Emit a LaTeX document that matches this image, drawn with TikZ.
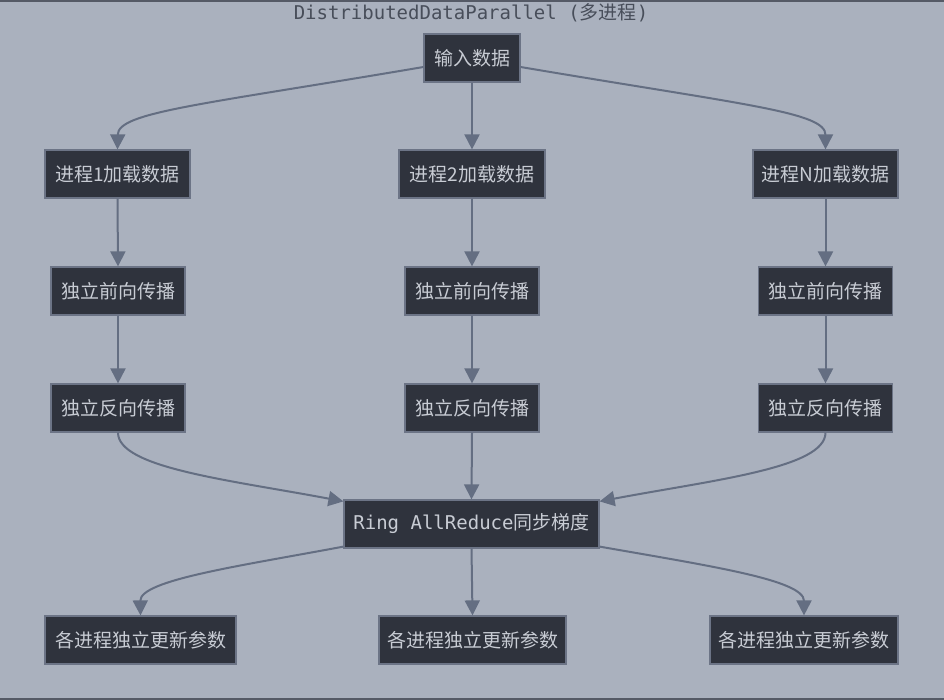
\documentclass[tikz,border=0pt]{standalone}
\usepackage{fontspec}
\setmainfont{Noto Sans CJK SC}
\newfontfamily\cjk{Noto Sans CJK SC}
\newfontfamily\mono{DejaVu Sans Mono}
\usetikzlibrary{arrows.meta,calc}
\definecolor{bgcol}{RGB}{170,177,190}
\definecolor{nodefill}{RGB}{47,51,61}
\definecolor{nodeborder}{RGB}{108,116,134}
\definecolor{nodetext}{RGB}{200,204,212}
\definecolor{edgecol}{RGB}{100,110,130}
\definecolor{titlecol}{RGB}{72,78,90}
\definecolor{framecol}{RGB}{85,90,102}
\begin{document}
\begin{tikzpicture}[x=1pt,y=-1pt,
  box/.style={draw=nodeborder, fill=nodefill, text=nodetext, line width=1.2pt,
    minimum height=48pt, inner sep=0pt, font=\cjk\fontsize{19}{23}\selectfont},
  edge/.style={draw=edgecol, line width=2pt, -{Triangle[length=15pt,width=15pt]}},
  frameline/.style={draw=framecol, line width=2pt}]
\useasboundingbox (0,0) rectangle (944,700);
\fill[bgcol] (0,0) rectangle (944,700);
\draw[frameline] (0,1) -- (944,1);
\draw[frameline] (0,699) -- (944,699);
\node[text=titlecol, font=\fontsize{19}{23}\selectfont, inner sep=0pt] (title) at (471,13) {{\mono DistributedDataParallel (}{\cjk 多进程}{\mono )}};

\node[box, minimum width=96pt] (in) at (472,58) {输入数据};
\node[box, minimum width=145pt] (p1) at (117.5,174) {进程1加载数据};
\node[box, minimum width=146pt] (p2) at (472,174) {进程2加载数据};
\node[box, minimum width=145pt] (pn) at (825.5,174) {进程N加载数据};
\node[box, minimum width=134pt] (f1) at (118,291) {独立前向传播};
\node[box, minimum width=134pt] (f2) at (472,291) {独立前向传播};
\node[box, minimum width=134pt] (fn) at (825.5,291) {独立前向传播};
\node[box, minimum width=134pt] (b1) at (118,408) {独立反向传播};
\node[box, minimum width=134pt] (b2) at (472,408) {独立反向传播};
\node[box, minimum width=134pt] (bn) at (825.5,408) {独立反向传播};
\node[box, minimum width=255pt] (ring) at (471.5,524) {{\mono Ring AllReduce}{\cjk 同步梯度}};
\node[box, minimum width=191pt] (u1) at (140.5,640) {各进程独立更新参数};
\node[box, minimum width=187pt] (u2) at (472.5,640) {各进程独立更新参数};
\node[box, minimum width=188pt] (un) at (804,640) {各进程独立更新参数};

\draw[edge] ($(in.west)+(0,9)$) .. controls (200,105) and (118,112) .. (p1.north);
\draw[edge] (in.south) -- (p2.north);
\draw[edge] ($(in.east)+(0,9)$) .. controls (745,105) and (825.5,112) .. (pn.north);

\draw[edge] (p1.south) -- (f1.north);
\draw[edge] (p2.south) -- (f2.north);
\draw[edge] (pn.south) -- (fn.north);
\draw[edge] (f1.south) -- (b1.north);
\draw[edge] (f2.south) -- (b2.north);
\draw[edge] (fn.south) -- (bn.north);

\draw[edge] (b1.south) .. controls (118,468) and (230,480) .. ($(ring.north west)+(0,2)$);
\draw[edge] (b2.south) -- (ring.north);
\draw[edge] (bn.south) .. controls (825.5,468) and (713,480) .. ($(ring.north east)+(0,2)$);

\draw[edge] ($(ring.south west)+(0,-2)$) .. controls (240,566) and (140,580) .. (u1.north);
\draw[edge] (ring.south) -- (u2.north);
\draw[edge] ($(ring.south east)+(0,-2)$) .. controls (710,566) and (804,580) .. (un.north);
\end{tikzpicture}
\end{document}
